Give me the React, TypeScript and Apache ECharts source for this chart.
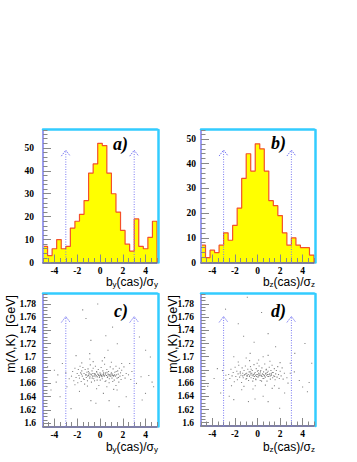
import React, { useEffect, useRef } from "react";
import * as echarts from "echarts";

// ---------------- data ----------------
const binStart = -5;
const binWidth = 0.4;
const histA = [7, 3, 6, 10, 6, 7, 15, 18, 21, 27, 39, 43, 52, 51, 39, 30, 22, 14, 8, 5, 19, 7, 6, 11, 18];
const histB = [7, 2, 5, 4, 7, 12, 9, 15, 22, 34, 44, 37, 48, 46, 37, 25, 23, 19, 12, 7, 10, 7, 6, 6, 3];

const xTickValues = [-4, -2, 0, 2, 4];
const histYTicks = [0, 10, 20, 30, 40, 50];
const massTicks = [1.6, 1.62, 1.64, 1.66, 1.68, 1.7, 1.72, 1.74, 1.76, 1.78];

const xRange = [-5, 5];
const histARange = [0, 57.8];
const histBRange = [0, 53.6];
const massRange = [1.595, 1.795];

const cutArrowsA = [[-3, 0, 49], [3, 0, 49]];
const cutArrowsB = [[-3, 0, 45.5], [3, 0, 45.5]];
const cutArrowsMass = [[-3, 1.595, 1.761], [3, 1.595, 1.761]];

const scatterC = [
  [-1.52, 1.771], [-1.23, 1.758], [0.51, 1.732], [-0.8, 1.725], [1.52, 1.72], [3.46, 1.73], [-2.1, 1.702],
  [4.42, 1.7], [-3.7, 1.673], [-3.84, 1.662], [4.28, 1.672], [4.57, 1.662], [3.99, 1.645], [-0.8, 1.634],
  [-0.36, 1.63], [0.8, 1.634], [-2.54, 1.622], [1.67, 1.625], [3.7, 1.635],
  [-4.3, 1.65], [2.6, 1.69], [-3.3, 1.69], [3.2, 1.66], [-2.9, 1.655], [2.8, 1.678], [-4.6, 1.685], [1.1, 1.745],
  [-0.2, 1.78], [4.0, 1.71], [-3.5, 1.64], [2.3, 1.64], [0.3, 1.645], [-1.8, 1.648], [1.5, 1.65], [-0.9, 1.705],
  [0.7, 1.71], [3.6, 1.67], [4.7, 1.655], [-4.0, 1.68],
  [-2.5, 1.671], [-2.4, 1.678], [-2.3, 1.664], [-2.2, 1.683], [-2.1, 1.669], [-2.0, 1.675], [-1.95, 1.661],
  [-1.9, 1.681], [-1.85, 1.672], [-1.8, 1.668], [-1.75, 1.686], [-1.7, 1.676], [-1.65, 1.663], [-1.6, 1.679],
  [-1.55, 1.671], [-1.5, 1.684], [-1.45, 1.667], [-1.4, 1.675], [-1.35, 1.659], [-1.3, 1.681], [-1.25, 1.673],
  [-1.2, 1.669], [-1.15, 1.677], [-1.1, 1.664], [-1.05, 1.682], [-1.0, 1.672], [-0.95, 1.676], [-0.9, 1.668],
  [-0.85, 1.688], [-0.8, 1.674], [-0.75, 1.662], [-0.7, 1.679], [-0.65, 1.671], [-0.6, 1.683], [-0.55, 1.667],
  [-0.5, 1.675], [-0.45, 1.673], [-0.4, 1.686], [-0.35, 1.67], [-0.3, 1.678], [-0.25, 1.665], [-0.2, 1.674],
  [-0.15, 1.681], [-0.1, 1.672], [-0.05, 1.669], [0.0, 1.676], [0.05, 1.673], [0.1, 1.684], [0.15, 1.671],
  [0.2, 1.667], [0.25, 1.679], [0.3, 1.674], [0.35, 1.672], [0.4, 1.689], [0.45, 1.663], [0.5, 1.676],
  [0.55, 1.672], [0.6, 1.681], [0.65, 1.669], [0.7, 1.674], [0.75, 1.678], [0.8, 1.661], [0.85, 1.673],
  [0.9, 1.685], [0.95, 1.671], [1.0, 1.676], [1.05, 1.668], [1.1, 1.674], [1.15, 1.682], [1.2, 1.672],
  [1.25, 1.665], [1.3, 1.677], [1.35, 1.671], [1.4, 1.686], [1.45, 1.673], [1.5, 1.668], [1.55, 1.679],
  [1.6, 1.674], [1.65, 1.662], [1.7, 1.683], [1.75, 1.671], [1.8, 1.676], [1.85, 1.666], [1.9, 1.68],
  [2.0, 1.672], [2.1, 1.685], [2.2, 1.668], [2.3, 1.675],
  [-1.22, 1.673], [-1.08, 1.671], [-0.97, 1.674], [-0.88, 1.67], [-0.76, 1.673], [-0.63, 1.675], [-0.52, 1.671],
  [-0.41, 1.674], [-0.33, 1.672], [-0.22, 1.67], [-0.12, 1.673], [-0.03, 1.671], [0.07, 1.674], [0.12, 1.672],
  [0.18, 1.67], [0.27, 1.673], [0.38, 1.671], [0.47, 1.674], [0.58, 1.672], [0.68, 1.67], [0.77, 1.673],
  [0.88, 1.671], [0.97, 1.674], [1.08, 1.672], [1.18, 1.671], [1.28, 1.673], [0.32, 1.676], [-0.68, 1.668],
  [0.82, 1.667], [-0.28, 1.677], [0.62, 1.677], [-1.02, 1.678], [0.02, 1.665], [0.52, 1.664], [-0.48, 1.664],
  [1.12, 1.663], [-1.38, 1.666], [1.42, 1.678], [-1.62, 1.674], [1.62, 1.669],
  [-2.2, 1.658], [-1.6, 1.691], [-1.1, 1.656], [-0.6, 1.693], [-0.1, 1.657], [0.2, 1.694], [0.6, 1.655],
  [1.0, 1.692], [1.4, 1.657], [1.9, 1.69], [-2.7, 1.667], [2.5, 1.673], [-3.0, 1.676], [2.7, 1.666],
  [-0.9, 1.697], [0.4, 1.699], [-0.3, 1.652], [1.2, 1.651],
];

const scatterD = [
  [-2.83, 1.772], [0.36, 1.767], [-1.23, 1.731], [0.94, 1.735], [-0.65, 1.705], [0.94, 1.702], [-2.1, 1.7],
  [-3.55, 1.682], [-3.84, 1.667], [3.26, 1.677], [3.7, 1.664], [3.99, 1.654], [4.42, 1.647], [4.57, 1.661],
  [-2.1, 1.635], [-0.8, 1.632], [-0.22, 1.636], [0.94, 1.632], [1.96, 1.622], [-3.26, 1.645],
  [-4.4, 1.655], [2.9, 1.69], [-3.0, 1.687], [4.2, 1.72], [-1.7, 1.75], [1.6, 1.715], [-0.3, 1.722],
  [2.4, 1.645], [-2.5, 1.64], [0.5, 1.64], [-1.4, 1.65], [1.9, 1.652], [3.3, 1.705], [-4.7, 1.675],
  [4.8, 1.69], [-0.9, 1.79], [2.7, 1.66], [-2.8, 1.665],
  [-2.55, 1.673], [-2.45, 1.667], [-2.35, 1.681], [-2.25, 1.671], [-2.15, 1.676], [-2.05, 1.662], [-1.98, 1.684],
  [-1.92, 1.67], [-1.83, 1.678], [-1.78, 1.665], [-1.72, 1.674], [-1.66, 1.687], [-1.58, 1.669], [-1.52, 1.677],
  [-1.47, 1.672], [-1.41, 1.661], [-1.36, 1.683], [-1.31, 1.675], [-1.26, 1.668], [-1.19, 1.679], [-1.13, 1.673],
  [-1.07, 1.686], [-1.02, 1.666], [-0.96, 1.675], [-0.91, 1.671], [-0.86, 1.681], [-0.79, 1.664], [-0.74, 1.677],
  [-0.68, 1.672], [-0.62, 1.685], [-0.57, 1.668], [-0.51, 1.675], [-0.46, 1.679], [-0.42, 1.663], [-0.37, 1.673],
  [-0.31, 1.688], [-0.26, 1.67], [-0.21, 1.676], [-0.16, 1.666], [-0.11, 1.682], [-0.06, 1.673], [-0.01, 1.678],
  [0.04, 1.669], [0.09, 1.675], [0.14, 1.686], [0.19, 1.672], [0.24, 1.664], [0.29, 1.679], [0.34, 1.671],
  [0.39, 1.683], [0.44, 1.674], [0.49, 1.667], [0.54, 1.677], [0.59, 1.672], [0.64, 1.689], [0.69, 1.669],
  [0.74, 1.675], [0.79, 1.681], [0.84, 1.663], [0.89, 1.673], [0.94, 1.678], [0.99, 1.67], [1.04, 1.684],
  [1.09, 1.674], [1.14, 1.666], [1.19, 1.679], [1.24, 1.672], [1.29, 1.687], [1.34, 1.668], [1.39, 1.676],
  [1.44, 1.671], [1.49, 1.682], [1.56, 1.665], [1.61, 1.674], [1.67, 1.679], [1.73, 1.669], [1.79, 1.685],
  [1.86, 1.673], [1.93, 1.667], [2.01, 1.678], [2.09, 1.671], [2.18, 1.683], [2.27, 1.666], [2.38, 1.675],
  [-1.18, 1.672], [-1.04, 1.674], [-0.93, 1.671], [-0.82, 1.673], [-0.71, 1.67], [-0.59, 1.674], [-0.48, 1.672],
  [-0.38, 1.671], [-0.27, 1.674], [-0.17, 1.672], [-0.08, 1.67], [0.03, 1.673], [0.11, 1.671], [0.21, 1.674],
  [0.31, 1.672], [0.41, 1.67], [0.51, 1.673], [0.61, 1.671], [0.72, 1.674], [0.81, 1.672], [0.92, 1.67],
  [1.02, 1.673], [1.13, 1.671], [1.23, 1.674], [-0.64, 1.677], [0.26, 1.677], [0.86, 1.676], [-0.36, 1.667],
  [0.56, 1.667], [-0.96, 1.667], [0.06, 1.679], [-0.14, 1.665], [1.31, 1.676], [-1.31, 1.671], [1.52, 1.67],
  [-1.53, 1.675], [0.36, 1.663], [-0.56, 1.681], [0.76, 1.68], [-0.03, 1.69],
  [-2.3, 1.656], [-1.7, 1.692], [-1.2, 1.655], [-0.7, 1.694], [-0.2, 1.656], [0.1, 1.695], [0.7, 1.657],
  [1.1, 1.693], [1.5, 1.656], [2.0, 1.691], [-2.8, 1.672], [2.6, 1.668], [-3.1, 1.679], [2.9, 1.675],
  [-1.0, 1.698], [0.5, 1.7], [-0.4, 1.651], [1.3, 1.652],
];

// ---------------- helpers ----------------
function histSteps(values: number[]) {
  const pts: number[][] = [[binStart, 0]];
  values.forEach((v, i) => pts.push([binStart + i * binWidth, v]));
  const end = binStart + values.length * binWidth;
  pts.push([end, values[values.length - 1]]);
  pts.push([end, 0]);
  return pts;
}

const tickFont = {
  fontFamily: "Liberation Serif",
  fontWeight: "bold" as const,
  fontSize: 9.5,
  color: "#000",
};

const gridBoxes = [
  { left: 43, top: 130, width: 114, height: 132.5 },
  { left: 201, top: 130, width: 113, height: 132.5 },
  { left: 43, top: 294, width: 114, height: 132.5 },
  { left: 201, top: 294, width: 113, height: 132 },
];

type PanelAxisCfg = {
  yRange: number[];
  yTicks: number[];
  yMinor: number;
  yMargin: number;
  yFmt: (v: number) => string;
};

function buildAxes(i: number, cfg: PanelAxisCfg) {
  const xs = [
    {
      gridIndex: i, type: "value", min: xRange[0], max: xRange[1], position: "bottom", z: 5,
      axisLine: { show: true, onZero: false, lineStyle: { color: "#55558a", width: 1.5 } },
      axisTick: { show: true, inside: true, length: 8, customValues: xTickValues, lineStyle: { color: "#888", width: 1 } },
      axisLabel: { show: true, customValues: xTickValues, margin: 3, ...tickFont },
      splitLine: { show: false },
    },
    {
      gridIndex: i, type: "value", min: xRange[0], max: xRange[1], interval: 0.5, position: "bottom", z: 5,
      axisLine: { show: false, onZero: false },
      axisTick: { show: true, inside: true, length: 4.5, lineStyle: { color: "#888", width: 1 } },
      axisLabel: { show: false },
      splitLine: { show: false },
    },
    {
      gridIndex: i, type: "value", min: xRange[0], max: xRange[1], position: "top", offset: 1, z: 5,
      axisLine: { show: true, onZero: false, lineStyle: { color: "#33ccff", width: 2.5 } },
      axisTick: { show: false }, axisLabel: { show: false }, splitLine: { show: false },
    },
  ];
  const ys = [
    {
      gridIndex: i, type: "value", min: cfg.yRange[0], max: cfg.yRange[1], position: "left", z: 5,
      axisLine: { show: true, onZero: false, lineStyle: { color: "#9c9cf0", width: 2 } },
      axisTick: { show: true, inside: true, length: 8, customValues: cfg.yTicks, lineStyle: { color: "#888", width: 1 } },
      axisLabel: { show: true, customValues: cfg.yTicks, margin: cfg.yMargin, formatter: cfg.yFmt, ...tickFont },
      splitLine: { show: false },
    },
    {
      gridIndex: i, type: "value", min: cfg.yRange[0], max: cfg.yRange[1], interval: cfg.yMinor, position: "left", z: 5,
      axisLine: { show: false, onZero: false },
      axisTick: { show: true, inside: true, length: 4.5, lineStyle: { color: "#888", width: 1 } },
      axisLabel: { show: false },
      splitLine: { show: false },
    },
    {
      gridIndex: i, type: "value", min: cfg.yRange[0], max: cfg.yRange[1], position: "right", offset: 1, z: 5,
      axisLine: { show: true, onZero: false, lineStyle: { color: "#33ccff", width: 2.5 } },
      axisTick: { show: false }, axisLabel: { show: false }, splitLine: { show: false },
    },
  ];
  return { xs, ys };
}

const arrowColor = "#7b7bf2";
function renderArrow(params: any, api: any) {
  const x = api.value(0);
  const p0 = api.coord([x, api.value(1)]);
  const p1 = api.coord([x, api.value(2)]);
  return {
    type: "group",
    children: [
      {
        type: "line",
        shape: { x1: p0[0], y1: p0[1], x2: p1[0], y2: p1[1] },
        style: { stroke: arrowColor, lineWidth: 1, lineDash: [1, 1.5] },
      },
      {
        type: "polyline",
        shape: { points: [[p1[0] - 4.5, p1[1] + 6], [p1[0], p1[1]], [p1[0] + 4.5, p1[1] + 6]] },
        style: { stroke: arrowColor, fill: null, lineWidth: 1, lineDash: [1.5, 1] },
      },
    ],
  };
}

function axisTitle(x: number, y: number, sub: string) {
  return {
    type: "text",
    x,
    y,
    z: 10,
    style: {
      text: `{n|b}{s|${sub}}{n|(cas)/σ}{s|${sub}}`,
      align: "right",
      verticalAlign: "top",
      rich: {
        n: { fontFamily: "Liberation Sans", fontSize: 12, lineHeight: 12, verticalAlign: "bottom", fill: "#000" },
        s: { fontFamily: "Liberation Sans", fontSize: 8, lineHeight: 4, verticalAlign: "bottom", fill: "#000" },
      },
    },
  };
}

function massTitle(x: number, y: number) {
  return {
    type: "text",
    x,
    y,
    rotation: Math.PI / 2,
    z: 10,
    style: {
      text: "m(Λ,K)\u00a0\u00a0[GeV]",
      align: "right",
      verticalAlign: "middle",
      fontFamily: "Liberation Sans",
      fontSize: 12.5,
      fill: "#000",
    },
  };
}

const panelTitleStyle = {
  fontFamily: "Liberation Serif",
  fontStyle: "italic" as const,
  fontWeight: "bold" as const,
  fontSize: 18,
  color: "#000",
};

export default function App() {
  const ref = useRef<HTMLDivElement>(null);
  useEffect(() => {
    if (!ref.current) return;
    const chart = echarts.init(ref.current, undefined, { renderer: "svg" });

    const histFmt = (v: number) => String(v);
    const massFmt = (v: number) => String(parseFloat(v.toFixed(2)));
    const cfgs: PanelAxisCfg[] = [
      { yRange: histARange, yTicks: histYTicks, yMinor: 2, yMargin: 9, yFmt: histFmt },
      { yRange: histBRange, yTicks: histYTicks, yMinor: 2, yMargin: 5, yFmt: histFmt },
      { yRange: massRange, yTicks: massTicks, yMinor: 0.005, yMargin: 7, yFmt: massFmt },
      { yRange: massRange, yTicks: massTicks, yMinor: 0.005, yMargin: 7, yFmt: massFmt },
    ];
    const xAxis: any[] = [];
    const yAxis: any[] = [];
    cfgs.forEach((c, i) => {
      const { xs, ys } = buildAxes(i, c);
      xAxis.push(...xs);
      yAxis.push(...ys);
    });

    const histSeries = (i: number, vals: number[]) => ({
      type: "line",
      xAxisIndex: i * 3,
      yAxisIndex: i * 3,
      step: "end",
      data: histSteps(vals),
      showSymbol: false,
      symbol: "none",
      lineStyle: { color: "#f4502a", width: 1.2 },
      areaStyle: { color: "#ffff00", opacity: 1 },
      z: 2,
    });
    const arrowSeries = (i: number, data: number[][]) => ({
      type: "custom",
      xAxisIndex: i * 3,
      yAxisIndex: i * 3,
      coordinateSystem: "cartesian2d",
      data,
      renderItem: renderArrow,
      clip: false,
      z: 6,
    });
    const scatterSeries = (i: number, data: number[][]) => ({
      type: "scatter",
      xAxisIndex: i * 3,
      yAxisIndex: i * 3,
      data,
      symbol: "rect",
      symbolSize: 1.1,
      itemStyle: { color: "#666" },
      z: 3,
    });

    chart.setOption({
      animation: false,
      backgroundColor: "#fff",
      grid: gridBoxes.map((g) => ({ ...g, containLabel: false, outerBoundsMode: "none" })),
      xAxis,
      yAxis,
      title: [
        { text: "a)", left: 113, top: 135, padding: 0, textStyle: panelTitleStyle },
        { text: "b)", left: 271, top: 134, padding: 0, textStyle: panelTitleStyle },
        { text: "c)", left: 114, top: 302, padding: 0, textStyle: panelTitleStyle },
        { text: "d)", left: 271, top: 302, padding: 0, textStyle: panelTitleStyle },
      ],
      graphic: [
        axisTitle(158, 276, "y"),
        axisTitle(315, 276, "z"),
        axisTitle(158, 441, "y"),
        axisTitle(315, 441, "z"),
        massTitle(11, 295),
        massTitle(173, 295),
      ],
      series: [
        histSeries(0, histA),
        histSeries(1, histB),
        scatterSeries(2, scatterC),
        scatterSeries(3, scatterD),
        arrowSeries(0, cutArrowsA),
        arrowSeries(1, cutArrowsB),
        arrowSeries(2, cutArrowsMass),
        arrowSeries(3, cutArrowsMass),
      ],
    });
    return () => chart.dispose();
  }, []);
  return (
    <div
      ref={ref}
      style={{ position: "absolute", left: 0, top: 0, width: 357, height: 462, background: "#fff" }}
    />
  );
}
